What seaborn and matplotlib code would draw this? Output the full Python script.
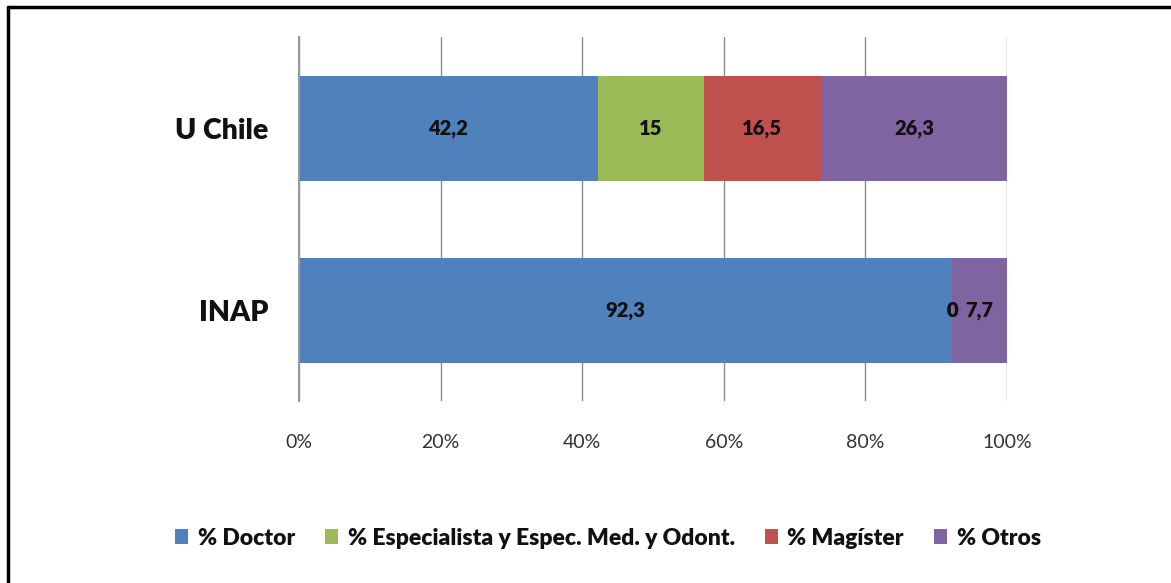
import numpy as np
import pandas as pd
import matplotlib
matplotlib.use('Agg')
import matplotlib.pyplot as plt
from matplotlib.lines import Line2D
from matplotlib.patches import Patch
import seaborn as sns

# Data
categories = ['U Chile', 'INAP']
series = ['% Doctor', '% Especialista y Espec. Med. y Odont.', '% Magíster', '% Otros']
doctor = [42.2, 92.3]
especialista = [15, 0]
magister = [16.5, 0]
otros = [26.3, 7.7]
colors = ['#4F81BD', '#9BBB59', '#C0504D', '#8064A2']
tick_vals = [0, 20, 40, 60, 80, 100]
tick_labels = ['0%', '20%', '40%', '60%', '80%', '100%']

sns.set_style('white')
plt.rcParams['font.family'] = ['Lato', 'DejaVu Sans']

values = np.array([doctor, especialista, magister, otros])
cum = values.cumsum(axis=0)

fig = plt.figure(figsize=(11.71, 5.83), dpi=100)
ax = fig.add_axes([0.2553, 0.312, 0.6046, 0.6245])

# stacked bars: draw cumulative totals from the last series backwards
for i in range(len(series) - 1, -1, -1):
    df = pd.DataFrame({'cat': categories, 'val': cum[i]})
    sns.barplot(data=df, x='val', y='cat', orient='h', color=colors[i],
                width=0.577, saturation=1, linewidth=0, ax=ax, zorder=2)

# data labels
for i in range(len(series)):
    for j in range(len(categories)):
        center = cum[i, j] - values[i, j] / 2
        txt = f'{values[i, j]:g}'.replace('.', ',')
        ax.text(center, j, txt, ha='center', va='center', fontsize=14.5,
                fontweight='heavy', color='#111111', zorder=3)

ax.set_xlim(0, 100)
ax.set_ylim(1.5, -0.5)
ax.set_xticks(tick_vals)
ax.set_xticklabels(tick_labels, fontsize=14, color='#333333')
ax.tick_params(axis='x', length=0, pad=24)
ax.tick_params(axis='y', length=0, pad=22)
for lab in ax.get_yticklabels():
    lab.set_fontsize(20.5)
    lab.set_fontweight('heavy')
    lab.set_color('#111111')
ax.set_xlabel('')
ax.set_ylabel('')
ax.xaxis.grid(True, color='#8c8c8c', linewidth=1)
ax.set_axisbelow(True)
for s in ['top', 'right', 'bottom']:
    ax.spines[s].set_visible(False)
ax.spines['left'].set_color('#9a9a9a')
ax.spines['left'].set_linewidth(1.5)

handles = [Patch(facecolor=c, edgecolor='none') for c in colors]
leg = fig.legend(handles, series, loc='center', bbox_to_anchor=(0.519, 0.077),
                 ncol=4, frameon=False, handlelength=0.6, handleheight=0.6,
                 handletextpad=0.4, columnspacing=1.3,
                 prop={'weight': 'heavy', 'size': 16.5})
for t in leg.get_texts():
    t.set_color('#111111')

# outer frame (only left and top visible in the crop)
fig.add_artist(Line2D([0.0068, 0.0068], [0, 0.9875], color='black', linewidth=2.5,
                      transform=fig.transFigure))
fig.add_artist(Line2D([0.0068, 1], [0.9875, 0.9875], color='black', linewidth=2.5,
                      transform=fig.transFigure))

fig.savefig('out.png', dpi=100)
